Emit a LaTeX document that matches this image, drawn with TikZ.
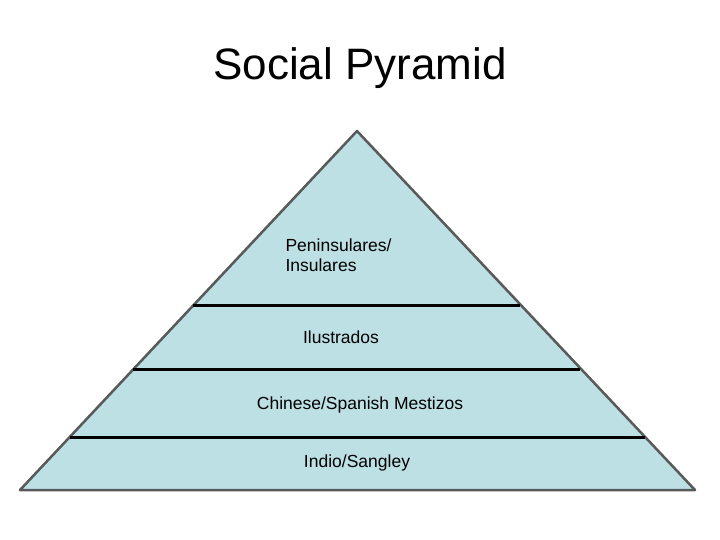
\documentclass[tikz,border=0pt]{standalone}
\usepackage{fontspec}
\setmainfont{Liberation Sans}
\definecolor{pyr}{HTML}{BCE0E4}
\begin{document}
\begin{tikzpicture}[x=1pt,y=-1pt,
  lbl/.style={font=\fontsize{17.5}{20}\selectfont, align=left},
  sep/.style={line width=3pt, black}]
\useasboundingbox (0,0) rectangle (720,540);
\node[font=\fontsize{44}{50}\selectfont] (title) at (360,68) {Social Pyramid};
\coordinate (apex) at (357,131);
\coordinate (bl) at (20,490);
\coordinate (br) at (695,490);
\fill[pyr] (apex) -- (bl) -- (br) -- cycle;
\draw[gray!70!black, line width=2.5pt, line join=round] (apex) -- (bl) -- (br) -- cycle;
\coordinate (a1) at (193,305); \coordinate (a2) at (520,305);
\coordinate (b1) at (133,369); \coordinate (b2) at (580,369);
\coordinate (c1) at (70,437); \coordinate (c2) at (645,437);
\draw[sep] (a1) -- (a2);
\draw[sep] (b1) -- (b2);
\draw[sep] (c1) -- (c2);
\node[lbl, anchor=west] (p) at (282,255) {Peninsulares/\\Insulares};
\node[lbl] (i) at (341,337) {Ilustrados};
\node[lbl] (c) at (360,405) {Chinese/Spanish Mestizos};
\node[lbl] (s) at (357,463) {Indio/Sangley};
\end{tikzpicture}
\end{document}
